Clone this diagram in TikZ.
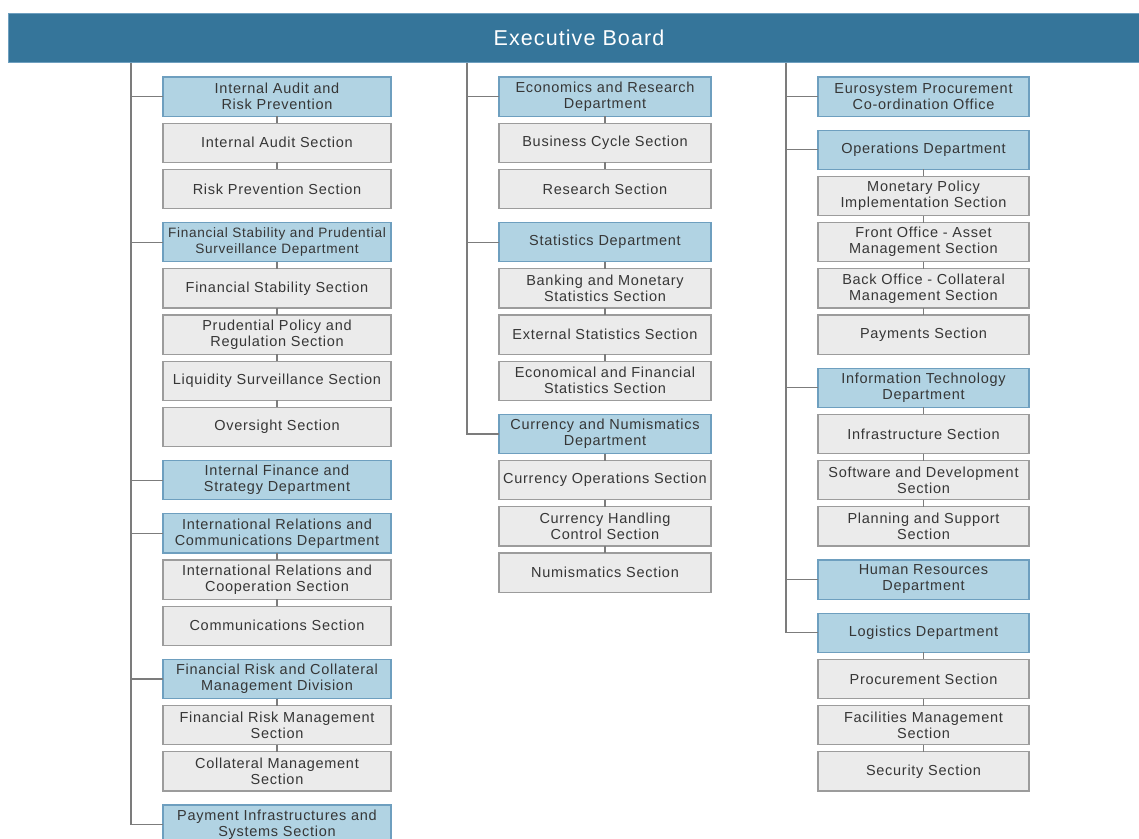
\documentclass[tikz,border=0pt]{standalone}
\usepackage{fontspec}
\setmainfont{Liberation Sans}[LetterSpace=5]
\usetikzlibrary{positioning}

\definecolor{boardblue}{HTML}{35759A}
\definecolor{deptfill}{HTML}{B1D3E3}
\definecolor{deptline}{HTML}{6E9FBF}
\definecolor{secfill}{HTML}{EBEBEB}
\definecolor{secline}{HTML}{9C9C9C}
\definecolor{linkgray}{HTML}{7C7C7C}
\definecolor{textgray}{HTML}{363636}

\begin{document}
\begin{tikzpicture}[x=1pt,y=-1pt,node distance=7pt,
    board/.style={fill=boardblue,draw=deptline,line width=1pt,minimum width=1142pt,
      minimum height=49pt,text=white,font=\fontsize{21.5}{26}\selectfont},
    dept/.style={draw=deptline,fill=deptfill,line width=1.2pt,minimum height=39.2pt,
      inner sep=1pt,outer sep=0pt,align=center,text=textgray,
      font=\fontsize{14.5}{16}\selectfont},
    sect/.style={dept,draw=secline,fill=secfill},
    colA/.style={minimum width=228pt},
    colB/.style={minimum width=212pt},
    colC/.style={minimum width=211pt},
    tight/.style={font=\fontsize{13.6}{16}\selectfont},
    link/.style={draw=linkgray,line width=1.2pt}]
  \clip (0,0) rectangle (1139,838);
  \fill[white] (0,0) rectangle (1139,838);

  \node[board] (board) at (579,37.5) {Executive Board};

  % left column
  \node[dept,colA] (iarp) at (277,96.5) {Internal Audit and\\Risk Prevention};
  \node[sect,colA,below=of iarp] (ias) {Internal Audit Section};
  \node[sect,colA,below=of ias] (rps) {Risk Prevention Section};
  \node[dept,colA,tight,below=14pt of rps] (fspsd) {Financial Stability and Prudential\\Surveillance Department};
  \node[sect,colA,below=of fspsd] (fss) {Financial Stability Section};
  \node[sect,colA,below=of fss] (ppr) {Prudential Policy and\\Regulation Section};
  \node[sect,colA,below=of ppr] (lss) {Liquidity Surveillance Section};
  \node[sect,colA,below=of lss] (os) {Oversight Section};
  \node[dept,colA,below=14pt of os] (ifsd) {Internal Finance and\\Strategy Department};
  \node[dept,colA,below=14pt of ifsd] (ircd) {International Relations and\\Communications Department};
  \node[sect,colA,below=of ircd] (ircs) {International Relations and\\Cooperation Section};
  \node[sect,colA,below=of ircs] (cs) {Communications Section};
  \node[dept,colA,below=14pt of cs] (frcm) {Financial Risk and Collateral\\Management Division};
  \node[sect,colA,below=of frcm] (frms) {Financial Risk Management\\Section};
  \node[sect,colA,below=of frms] (cms) {Collateral Management\\Section};
  \node[dept,colA,below=14pt of cms] (piss) {Payment Infrastructures and\\Systems Section};

  % middle column
  \node[dept,colB] (erd) at (605,96.5) {Economics and Research\\Department};
  \node[sect,colB,below=of erd] (bcs) {Business Cycle Section};
  \node[sect,colB,below=of bcs] (rs) {Research Section};
  \node[dept,colB,below=14pt of rs] (sd) {Statistics Department};
  \node[sect,colB,below=of sd] (bms) {Banking and Monetary\\Statistics Section};
  \node[sect,colB,below=of bms] (ess) {External Statistics Section};
  \node[sect,colB,below=of ess] (efs) {Economical and Financial\\Statistics Section};
  \node[dept,colB,below=14pt of efs] (cnd) {Currency and Numismatics\\Department};
  \node[sect,colB,below=of cnd] (cos) {Currency Operations Section};
  \node[sect,colB,below=of cos] (chc) {Currency Handling\\Control Section};
  \node[sect,colB,below=of chc] (ns) {Numismatics Section};

  % right column
  \node[dept,colC] (epco) at (923.5,96.5) {Eurosystem Procurement\\Co-ordination Office};
  \node[dept,colC,below=14pt of epco] (od) {Operations Department};
  \node[sect,colC,below=of od] (mpis) {Monetary Policy\\Implementation Section};
  \node[sect,colC,below=of mpis] (foam) {Front Office - Asset\\Management Section};
  \node[sect,colC,below=of foam] (bocm) {Back Office - Collateral\\Management Section};
  \node[sect,colC,below=of bocm] (ps) {Payments Section};
  \node[dept,colC,below=14pt of ps] (itd) {Information Technology\\Department};
  \node[sect,colC,below=of itd] (is) {Infrastructure Section};
  \node[sect,colC,below=of is] (sds) {Software and Development\\Section};
  \node[sect,colC,below=of sds] (pss) {Planning and Support\\Section};
  \node[dept,colC,below=14pt of pss] (hrd) {Human Resources\\Department};
  \node[dept,colC,below=14pt of hrd] (ld) {Logistics Department};
  \node[sect,colC,below=of ld] (prs) {Procurement Section};
  \node[sect,colC,below=of prs] (fms) {Facilities Management\\Section};
  \node[sect,colC,below=of fms] (ss) {Security Section};

  % trunks from the board
  \coordinate (topA) at (board.south -| 131,0);
  \coordinate (topB) at (board.south -| 467,0);
  \coordinate (topC) at (board.south -| 786,0);
  \draw[link] (topA) |- (piss);
  \draw[link] (topB) |- (cnd);
  \draw[link] (topC) |- (ld);

  \path[link]
    (iarp.west) edge (iarp.west -| topA)
    (fspsd.west) edge (fspsd.west -| topA)
    (ifsd.west) edge (ifsd.west -| topA)
    (ircd.west) edge (ircd.west -| topA)
    (frcm.west) edge (frcm.west -| topA)
    (erd.west) edge (erd.west -| topB)
    (sd.west) edge (sd.west -| topB)
    (epco.west) edge (epco.west -| topC)
    (od.west) edge (od.west -| topC)
    (itd.west) edge (itd.west -| topC)
    (hrd.west) edge (hrd.west -| topC);

  % sections hanging under each department
  \path[link]
    (iarp) edge (ias) (ias) edge (rps)
    (fspsd) edge (fss) (fss) edge (ppr) (ppr) edge (lss) (lss) edge (os)
    (ircd) edge (ircs) (ircs) edge (cs)
    (frcm) edge (frms) (frms) edge (cms)
    (erd) edge (bcs) (bcs) edge (rs)
    (sd) edge (bms) (bms) edge (ess) (ess) edge (efs)
    (cnd) edge (cos) (cos) edge (chc) (chc) edge (ns)
    (od) edge (mpis) (mpis) edge (foam) (foam) edge (bocm) (bocm) edge (ps)
    (itd) edge (is) (is) edge (sds) (sds) edge (pss)
    (ld) edge (prs) (prs) edge (fms) (fms) edge (ss);
\end{tikzpicture}
\end{document}
